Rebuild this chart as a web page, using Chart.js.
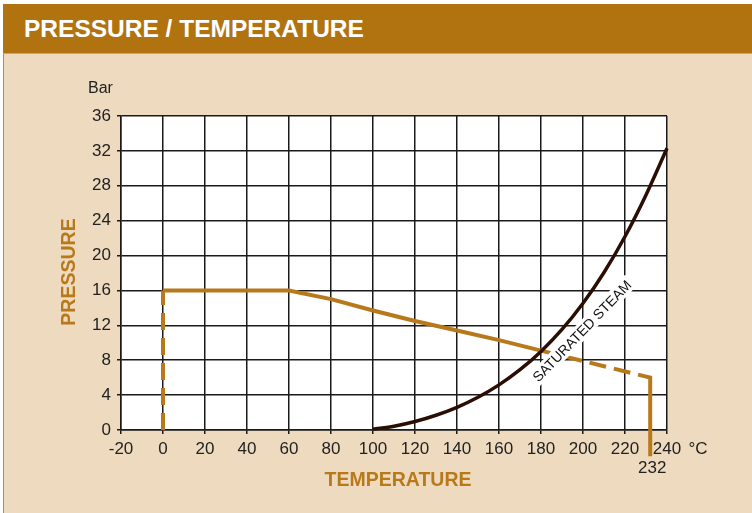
<!DOCTYPE html>
<html>
<head>
<meta charset="utf-8">
<script src="https://cdn.jsdelivr.net/npm/chart.js@4/dist/chart.umd.min.js"></script>
<style>
  html, body { margin:0; padding:0; background:#ffffff; width:752px; height:513px; overflow:hidden; }
  #frame { position:absolute; left:3px; top:4px; width:748px; height:509px; background:#EEDBBF; border-left:1px solid #C48A3C; }
  #hdr { position:absolute; left:3px; top:4px; width:728px; height:49px; background:#B1730F; border-bottom:1px solid #D9A55E;
         color:#ffffff; font:bold 24.5px "Liberation Sans", Arial, sans-serif; line-height:50px; padding-left:21px; }
  #c { position:absolute; left:0; top:0; }
</style>
</head>
<body>
<div id="frame"></div>
<div id="hdr">PRESSURE / TEMPERATURE</div>
<canvas id="c" width="752" height="513"></canvas>
<script>
// ---- data ----
const limitTemp     = [0, 0, 60, 80, 100, 120, 140, 160, 180, 232, 232];
const limitPressure = [0, 16, 16, 15, 13.7, 12.5, 11.4, 10.3, 9.1, 6, -3];
const steamTemp     = [100, 110, 120, 130, 140, 150, 160, 170, 180, 190, 200, 210, 220, 230, 240];
const steamPressure = [0.1, 0.43, 0.97, 1.69, 2.6, 3.75, 5.17, 6.91, 9.01, 11.53, 14.53, 18.06, 22.18, 26.95, 32.3];
const xRange = [-20, 240];
const yRange = [0, 36];
const xStep = 20;
const yStep = 4;
const steamLabel = "SATURATED STEAM";
const steamLabelPos = [199.5, 11.35];
const limitMarker = 232;

const ORANGE = '#B8791A';
const DARK = '#2A0E04';
const GRID = '#1A1A1A';
const FONT = '"Liberation Sans", Arial, sans-serif';

Chart.defaults.font.family = FONT;

const toPts = (xs, ys) => xs.map((x, i) => ({ x: x, y: ys[i] }));

const extras = {
  id: 'extras',
  beforeDraw(chart) {
    const { ctx, chartArea: a } = chart;
    ctx.save();
    ctx.fillStyle = '#ffffff';
    ctx.fillRect(a.left, a.top, a.right - a.left, a.bottom - a.top);
    ctx.restore();
  },
  afterDraw(chart) {
    const { ctx } = chart;
    const xs = chart.scales.x, ys = chart.scales.y;
    ctx.save();
    // unit labels
    ctx.fillStyle = '#222';
    ctx.font = '16px ' + FONT;
    ctx.textBaseline = 'middle';
    ctx.textAlign = 'left';
    ctx.fillText('Bar', 88, 89);
    ctx.font = '17px ' + FONT;
    ctx.textAlign = 'center';
    ctx.fillText('°C', 698, 449);
    ctx.fillText(String(limitMarker), xs.getPixelForValue(limitMarker) + 2, 468);
    // axis titles
    ctx.fillStyle = ORANGE;
    ctx.font = 'bold 19.5px ' + FONT;
    ctx.fillText('TEMPERATURE', 398, 481);
    ctx.save();
    ctx.translate(70, 272);
    ctx.rotate(-Math.PI / 2);
    ctx.fillText('PRESSURE', 0, 0);
    ctx.restore();
    // steam label
    const px = xs.getPixelForValue(steamLabelPos[0]);
    const py = ys.getPixelForValue(steamLabelPos[1]);
    ctx.translate(px, py);
    ctx.rotate(-46 * Math.PI / 180);
    ctx.font = '14px ' + FONT;
    const w = ctx.measureText(steamLabel).width;
    ctx.fillStyle = '#ffffff';
    ctx.fillRect(-w / 2 - 3, -8, w + 6, 16);
    ctx.fillStyle = '#111';
    ctx.fillText(steamLabel, 0, 1);
    ctx.restore();
  }
};

const gridOpts = { color: GRID, lineWidth: 1.5, tickLength: 4, drawTicks: true };

new Chart(document.getElementById('c'), {
  type: 'scatter',
  data: {
    datasets: [
      {
        data: toPts(steamTemp, steamPressure),
        showLine: true,
        borderColor: DARK,
        borderWidth: 3.5,
        pointRadius: 0,
        cubicInterpolationMode: 'monotone',
        clip: false
      },
      {
        data: toPts(limitTemp, limitPressure),
        showLine: true,
        borderColor: ORANGE,
        borderWidth: 4,
        pointRadius: 0,
        borderCapStyle: 'butt',
        clip: false,
        segment: {
          borderDash: c => (c.p0DataIndex === 0 || c.p0DataIndex >= 8) ? [17, 8] : undefined
        }
      }
    ]
  },
  options: {
    responsive: false,
    animation: false,
    devicePixelRatio: 1,
    layout: { padding: { left: 0, top: 116, right: 85, bottom: 53 } },
    plugins: { legend: { display: false }, tooltip: { enabled: false } },
    scales: {
      x: {
        type: 'linear', min: xRange[0], max: xRange[1],
        ticks: { stepSize: xStep, color: '#222', font: { size: 17 }, padding: 5, maxRotation: 0 },
        grid: gridOpts,
        border: { color: GRID, width: 1.5 },
        afterFit: s => { s.height = 30; }
      },
      y: {
        type: 'linear', min: yRange[0], max: yRange[1],
        ticks: { stepSize: yStep, color: '#222', font: { size: 17 }, padding: 6 },
        grid: gridOpts,
        border: { color: GRID, width: 1.5 },
        afterFit: s => { s.width = 121; }
      }
    }
  },
  plugins: [extras]
});
</script>
</body>
</html>
